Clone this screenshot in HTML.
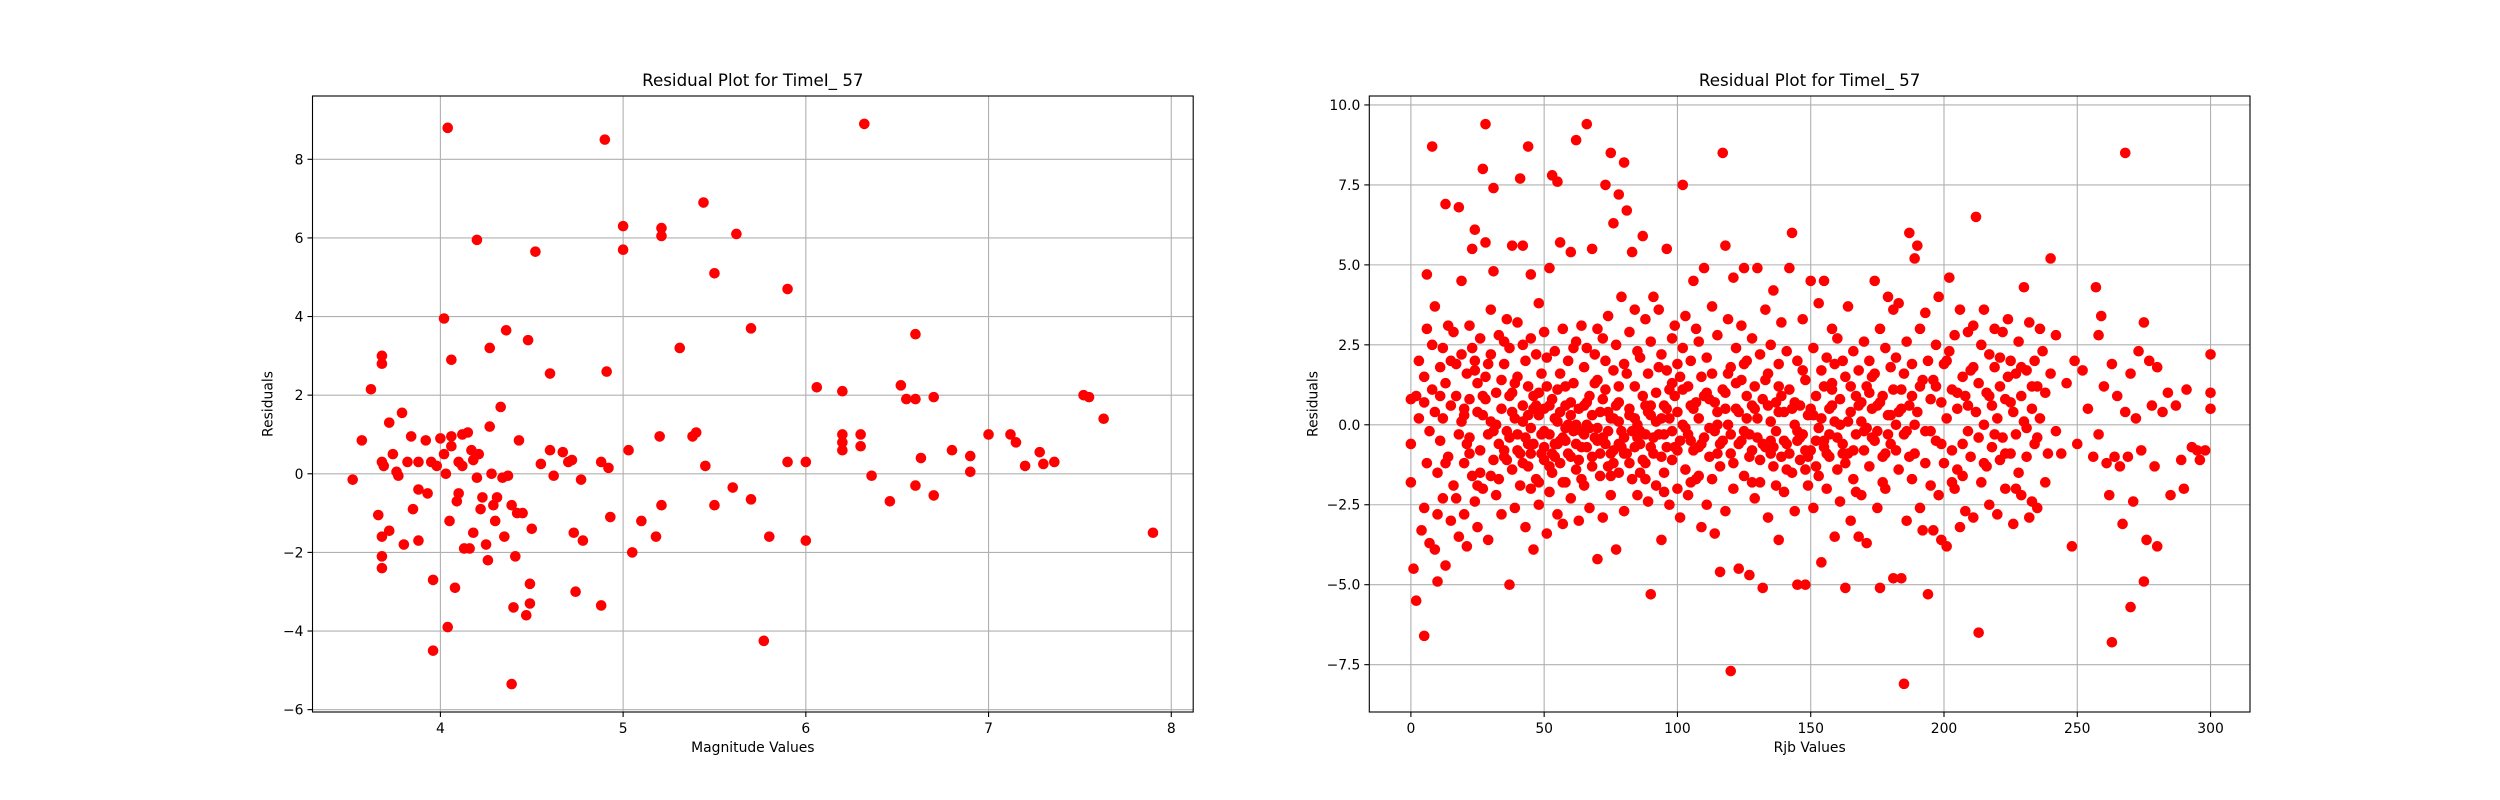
<!DOCTYPE html>
<html><head><meta charset="utf-8"><style>
html,body{margin:0;padding:0;background:#fff;}
svg{display:block;font-family:"DejaVu Sans","Liberation Sans",sans-serif;}
</style></head><body>
<svg id="fig" width="2500" height="800" viewBox="0 0 2500 800" xmlns="http://www.w3.org/2000/svg"></svg>
<script>
// Left chart data: magnitude vs residual
const magX = [3.52,3.57,3.62,3.68,3.68,3.66,3.68,3.69,3.68,3.68,3.68,3.72,3.72,3.74,3.76,3.77,3.79,3.8,3.82,3.84,3.85,3.88,3.88,3.88,3.92,3.93,3.95,3.96,3.96,3.98,4.0,4.02,4.02,4.03,4.04,4.04,4.05,4.06,4.06,4.06,4.08,4.09,4.1,4.1,4.12,4.12,4.13,4.15,4.16,4.17,4.18,4.18,4.2,4.2,4.21,4.22,4.23,4.25,4.26,4.27,4.27,4.28,4.29,4.3,4.31,4.33,4.34,4.35,4.36,4.37,4.39,4.39,4.4,4.41,4.42,4.43,4.45,4.47,4.48,4.49,4.49,4.5,4.52,4.55,4.6,4.6,4.62,4.67,4.7,4.72,4.73,4.74,4.77,4.78,4.88,4.88,4.9,4.91,4.92,4.93,5.0,5.0,5.03,5.05,5.1,5.18,5.2,5.21,5.21,5.21,5.31,5.38,5.4,5.44,5.45,5.5,5.5,5.6,5.62,5.7,5.7,5.77,5.8,5.9,5.9,6.0,6.0,6.06,6.2,6.2,6.2,6.2,6.3,6.3,6.32,6.36,6.46,6.52,6.55,6.6,6.6,6.6,6.63,6.7,6.7,6.8,6.9,6.9,7.0,7.12,7.15,7.2,7.28,7.3,7.36,7.52,7.55,7.63,7.9];
const magRes = [-0.15,0.85,2.15,3.0,2.8,-1.05,0.3,0.2,-1.6,-2.1,-2.4,1.3,-1.45,0.5,0.05,-0.05,1.55,-1.8,0.3,0.95,-0.9,0.3,-0.4,-1.7,0.85,-0.5,0.3,-2.7,-4.5,0.2,0.9,0.5,3.95,0.0,8.8,-3.9,-1.2,0.7,2.9,0.95,-2.9,-0.7,0.3,-0.5,1.0,0.2,-1.9,1.05,-1.9,0.6,0.35,-1.5,5.95,-0.1,0.5,-0.9,-0.6,-1.8,-2.2,3.2,1.2,0.0,-0.8,-1.2,-0.6,1.7,-0.1,-1.6,3.65,-0.05,-5.35,-0.8,-3.4,-2.1,-1.0,0.85,-1.0,-3.6,3.4,-2.8,-3.3,-1.4,5.65,0.25,2.55,0.6,-0.05,0.55,0.3,0.35,-1.5,-3.0,-0.15,-1.7,0.3,-3.35,8.5,2.6,0.15,-1.1,6.3,5.7,0.6,-2.0,-1.2,-1.6,0.95,6.25,6.05,-0.8,3.2,0.95,1.05,6.9,0.2,5.1,-0.8,-0.35,6.1,3.7,-0.65,-4.25,-1.6,4.7,0.3,0.3,-1.7,2.2,2.1,1.0,0.8,0.6,1.0,0.7,8.9,-0.05,-0.7,2.25,1.9,3.55,1.9,-0.3,0.4,1.95,-0.55,0.6,0.45,0.05,1.0,1.0,0.8,0.2,0.55,0.25,0.3,2.0,1.95,1.4,-1.5];
const magXTicks = [4,5,6,7,8];
const magYTicks = [-6,-4,-2,0,2,4,6,8];
const magYTickLabels = ["−6","−4","−2","0","2","4","6","8"];

// Right chart data: Rjb vs residual, as [x, y] pairs
const rjbPoints = [
[0,0.8],[0,-1.8],[0,-0.6],[1,-4.5],[2,-5.5],[2,0.9],[3,2.0],[3,0.2],[4,-3.3],[5,-6.6],[5,-2.6],[5,0.7],[5,1.5],[6,3.0],[6,4.7],[6,-1.2],[7,-0.2],[7,-3.7],[8,1.1],[8,8.7],[8,2.5],[9,-3.9],[9,0.4],[9,3.7],[10,-1.5],[10,-2.8],[10,-4.9],[11,1.8],[11,-0.5],[12,2.4],[12,0.2],[12,-2.3],[13,6.9],[13,1.3],[13,-4.4],[14,-1.0],[14,3.1],[15,0.6],[15,-3.0],[16,2.9],[16,-1.9],[17,0.9],[17,1.9],[18,6.8],[18,-3.5],[18,-0.3],[19,4.5],[19,2.2],[20,-1.2],[20,-2.8],[20,0.3],[21,1.6],[21,-3.8],[22,3.1],[22,0.8],[22,-0.9],[23,5.5],[23,-1.6],[24,2.0],[24,6.1],[24,-2.4],[25,0.4],[25,1.3],[25,-3.2],[26,-0.8],[26,2.7],[27,8.0],[27,0.9],[27,-2.0],[28,9.4],[28,5.7],[28,1.5],[29,-0.3],[29,-3.6],[30,2.2],[30,3.6],[30,0.1],[31,7.4],[31,-1.1],[31,4.8],[32,1.0],[32,-2.2],[33,2.8],[33,-0.6],[34,0.5],[34,-2.8],[35,1.9],[35,-1.0],[36,3.3],[36,-0.2],[37,-5.0],[37,0.9],[37,2.4],[38,5.6],[38,-1.4],[39,0.2],[39,-2.6],[40,1.5],[40,3.2],[40,-0.8],[41,7.7],[41,-1.9],[42,0.6],[42,5.6],[42,2.5],[43,-0.4],[43,-3.2],[44,1.2],[44,8.7],[44,-1.3],[45,2.7],[45,-0.1],[45,4.7],[46,-3.9],[46,0.9],[47,-1.7],[47,2.2],[48,0.3],[48,-2.5],[48,3.8],[49,1.6],[49,-0.9],[50,-1.1],[50,2.9],[50,0.5],[51,-3.4],[51,1.2],[52,-0.3],[52,4.9],[52,-2.1],[53,7.8],[53,0.8],[53,-1.5],[54,2.3],[54,-0.6],[55,7.6],[55,-2.8],[55,0.1],[56,1.6],[56,5.7],[56,-1.2],[57,-0.4],[57,3.0],[57,-3.1],[58,0.6],[58,-1.8],[59,2.0],[59,-0.9],[60,5.4],[60,0.3],[60,-2.3],[61,1.3],[61,-0.2],[62,8.9],[62,-1.4],[62,2.6],[63,0.5],[63,-3.0],[64,3.1],[64,-0.7],[65,1.8],[65,-1.9],[66,9.4],[66,0.0],[66,2.4],[67,-2.6],[67,0.9],[68,5.5],[68,-1.0],[69,2.2],[69,-0.4],[70,-4.2],[70,1.4],[70,3.0],[71,-1.6],[71,0.4],[72,2.7],[72,-2.9],[73,7.5],[73,-0.6],[73,1.1],[74,3.4],[74,-1.3],[75,8.5],[75,0.2],[75,-2.2],[76,6.3],[76,1.7],[76,-0.8],[77,-3.9],[77,2.5],[78,7.2],[78,0.7],[78,-1.5],[79,4.0],[79,-0.2],[80,8.2],[80,1.9],[80,-2.7],[81,6.7],[81,-0.9],[82,2.9],[82,0.5],[83,5.4],[83,-1.7],[84,1.2],[84,3.6],[85,-2.2],[85,0.0],[86,2.1],[86,-0.6],[87,5.9],[87,0.9],[88,-1.2],[88,3.3],[89,1.6],[89,-2.4],[90,-5.3],[90,0.3],[90,2.6],[91,4.0],[91,-0.9],[92,1.0],[92,-1.9],[93,3.6],[93,-0.3],[94,2.2],[94,-3.6],[95,0.6],[95,-1.5],[96,5.5],[96,1.7],[96,-0.7],[97,-2.5],[97,0.2],[98,2.7],[98,-1.1],[99,0.9],[99,3.1],[100,-2.0],[100,0.4],[100,1.9],[101,-0.5],[101,-2.9],[102,7.5],[102,2.4],[102,0.0],[103,-1.4],[103,3.4],[104,1.2],[104,-2.2],[105,0.6],[105,2.0],[106,-0.8],[106,4.5],[107,3.0],[107,-1.7],[108,0.2],[108,2.6],[109,-3.2],[109,1.5],[110,4.9],[110,-0.4],[111,2.1],[111,-2.5],[112,0.8],[112,-1.0],[113,3.7],[113,1.6],[114,-0.2],[114,-3.4],[115,2.8],[115,0.4],[116,-4.6],[116,-1.3],[117,8.5],[117,1.1],[118,5.6],[118,-2.7],[119,0.0],[119,3.3],[120,-7.7],[120,-0.9],[120,1.8],[121,4.6],[121,-2.0],[122,0.5],[122,2.4],[123,-0.6],[123,-4.5],[124,1.4],[124,3.1],[125,-1.6],[125,4.9],[126,0.2],[126,2.0],[127,-4.7],[127,-1.0],[128,2.7],[128,0.6],[129,-2.3],[129,1.2],[130,4.9],[130,-0.4],[131,2.2],[131,-1.8],[132,-5.1],[132,0.8],[133,3.6],[133,-0.7],[134,1.6],[134,-2.9],[135,0.1],[135,2.5],[136,-1.3],[136,4.2],[137,0.7],[137,-0.2],[138,1.9],[138,-3.6],[139,-1.0],[139,3.2],[140,0.4],[140,-2.1],[141,2.3],[141,-0.6],[142,4.9],[142,1.1],[143,-1.5],[143,6.0],[144,0.0],[144,-2.7],[145,-5.0],[145,2.0],[146,0.6],[146,-1.1],[147,3.3],[147,-0.3],[148,-5.0],[148,1.4],[149,-1.9],[149,0.3],[150,4.5],[150,-0.8],[151,2.4],[151,-2.6],[152,0.9],[152,-1.3],[153,3.8],[153,-0.1],[154,1.7],[154,-4.3],[155,-0.5],[155,4.5],[156,2.1],[156,-2.0],[157,0.5],[157,-1.0],[158,1.3],[158,3.0],[159,-3.5],[159,0.1],[160,2.7],[160,-1.4],[161,0.8],[161,-2.4],[162,2.0],[162,-0.6],[163,1.5],[163,-5.1],[164,-0.9],[164,3.7],[165,0.4],[165,-3.0],[166,2.3],[166,-1.7],[167,0.9],[167,-0.3],[168,1.7],[168,-3.5],[169,-2.2],[169,0.1],[170,2.6],[170,-0.8],[171,1.2],[171,-3.7],[172,-1.3],[172,2.0],[173,0.5],[173,-0.4],[174,4.5],[174,1.6],[175,-2.6],[175,-0.2],[176,-5.1],[176,3.0],[177,0.9],[177,-1.0],[178,2.4],[178,-2.0],[179,4.0],[179,0.3],[180,1.8],[180,-0.6],[181,3.6],[181,-4.8],[182,0.0],[182,2.1],[183,-1.4],[183,3.8],[184,1.1],[184,-4.8],[185,-8.1],[185,-0.3],[186,2.6],[186,-3.0],[187,6.0],[187,0.6],[188,-1.7],[188,1.9],[189,5.2],[189,-0.9],[190,5.6],[190,0.4],[191,3.0],[191,-2.6],[192,1.4],[192,-3.3],[193,-0.2],[193,3.5],[194,-5.3],[194,2.0],[195,0.8],[195,-1.9],[196,-3.3],[196,1.4],[197,2.5],[197,-0.5],[198,4.0],[198,-2.2],[199,0.7],[199,-3.6],[200,1.9],[200,-1.2],[201,-3.8],[201,0.2],[202,2.3],[202,4.6],[203,-0.8],[203,1.1],[204,-2.0],[204,2.8],[205,0.5],[205,-1.4],[206,3.6],[206,-3.2],[207,1.5],[207,-0.6],[208,0.9],[208,-2.7],[209,2.9],[209,-0.2],[210,1.7],[210,-1.0],[211,-2.9],[211,3.1],[212,6.5],[212,0.4],[213,-6.5],[213,1.3],[214,-1.8],[214,2.5],[215,0.0],[215,3.6],[216,-1.3],[216,1.0],[217,2.2],[217,-2.5],[218,0.6],[218,-0.7],[219,1.8],[219,3.0],[220,-2.8],[220,0.2],[221,1.2],[221,-1.1],[222,2.9],[222,-0.4],[223,0.8],[223,-2.0],[224,3.3],[224,1.5],[225,-0.9],[225,2.0],[226,0.4],[226,-3.1],[227,1.6],[227,-0.3],[228,2.6],[228,-1.5],[229,0.9],[229,-2.2],[230,4.3],[230,0.1],[231,1.7],[231,-1.0],[232,3.2],[232,-2.9],[233,0.5],[233,-2.4],[234,2.0],[234,-0.6],[235,1.2],[235,-2.6],[236,3.0],[236,0.2],[238,1.0],[238,-1.8],[240,5.2],[240,1.6],[242,-0.2],[242,2.8],[244,-0.9],[246,1.3],[248,-3.8],[249,2.0],[250,-0.6],[252,1.7],[254,0.5],[256,-1.0],[257,4.3],[258,2.8],[258,-0.3],[259,3.4],[260,1.2],[261,-1.2],[262,-2.2],[263,-6.8],[263,1.9],[264,-1.0],[265,0.9],[266,-1.3],[267,-3.1],[268,8.5],[268,0.4],[269,-1.0],[270,-5.7],[270,1.6],[271,-2.4],[272,0.2],[273,2.3],[274,-0.8],[275,-4.9],[275,3.2],[276,-3.6],[277,2.0],[278,0.6],[279,-1.3],[280,-3.8],[280,1.8],[282,0.4],[284,1.0],[285,-2.2],[287,0.6],[289,-1.1],[290,-2.0],[291,1.1],[293,-0.7],[295,-0.8],[296,-1.1],[298,-0.8],[300,2.2],[300,1.0],[300,0.5],
[20,0.5],[22,-0.4],[24,1.7],[26,-1.5],[28,0.8],[30,-1.6],[32,0.0],[34,1.4],[36,-1.1],[38,0.4],[40,-0.3],[42,-1.2],[44,0.3],[46,-0.6],[48,1.0],[50,-0.2],[52,0.6],[54,-1.0],[56,0.4],[58,-0.5],[60,-1.0],[62,0.0],[64,-1.7],[66,-0.7],[68,0.3],[70,-0.5],[72,0.8],[74,-0.2],[76,-1.2],[78,0.1],[80,-0.4],[82,-1.2],[84,0.2],[86,-1.5],[88,0.6],[90,-0.7],[92,0.1],[94,-1.0],[96,0.5],[98,-0.2],[100,-0.8],[102,1.1],[104,-0.3],[106,0.5],[108,-0.7],[110,0.9],[112,-0.1],[114,0.7],[116,-0.6],[118,0.5],[120,-0.3],[122,1.3],[124,-0.5],[126,0.9],[128,-0.8],[130,0.2],[132,-0.6],[134,0.6],[136,-0.7],[138,0.4],[140,-0.5],[142,-0.9],[144,0.7],[146,-0.4],[148,-0.8],[150,0.5],[152,-0.5],[154,0.2],[156,-0.9],[158,0.6],[160,-0.4],[162,-0.9],[164,0.1],[166,-0.8],[168,0.6],[170,-0.2],[172,1.0],[174,-0.5],[176,0.7],[178,-0.9],[180,0.3],[182,-0.8],[184,0.5],[186,-0.2],[188,0.9],
[35,-0.8],[45,-0.9],[55,-0.6],[65,-0.3],[75,-0.9],[85,-0.4],[95,-0.3],[105,-0.5],[115,-0.9],[125,-0.2],[135,-0.9],[145,-0.5],[155,-0.7],[38,1.0],[48,-1.8],[58,1.2],[68,-1.3],[78,1.2],[88,-1.7],[98,1.3],[108,-1.6],[118,1.0],[128,-1.8],[138,1.2],[148,-1.4],[158,1.1],
[11,0.9],[13,-1.2],[15,2.0],[17,-2.3],[19,0.1],[21,-0.6],[23,2.4],[25,-1.9],[27,0.3],[29,1.9],[31,-0.2],[33,-1.7],[35,2.6],[37,-0.4],[39,1.3],[41,-0.9],[43,2.0],[45,-2.0],[47,0.6],[49,-0.3],[51,2.1],[53,-0.9],[55,1.1],[57,-1.8],[59,0.0],[61,2.4],[63,-1.1],[65,0.6],[67,-0.1],[69,1.3],[71,-0.9],[73,2.0],[75,-1.6],[77,0.6],[79,-0.7],[81,1.6],[83,-0.2],[85,2.3],[87,-1.1],[89,0.4],[91,-0.4],[93,1.8],[95,-2.1],[97,1.1],[99,-0.7],[101,1.5],[103,-0.1],[105,-1.8],[107,0.7],[109,-0.6],[111,1.0],[113,-1.7],[115,0.0],[117,-0.5],[119,1.6],[121,-1.2],[123,0.4],[125,1.9],[127,-0.3],[129,0.5],[131,-1.1],[133,1.4],[135,-0.5],[137,-1.9],[139,0.9],[141,-1.4],[143,0.5],[145,-0.2],[147,1.7],[149,-1.0],[151,0.3],[153,-1.6],[155,1.2],[157,-0.3],[159,1.9],[161,0.0],[163,-1.2],[165,1.2],[167,-2.1],[169,0.7],[171,-0.1],[173,1.5],[175,0.6],[177,-1.8],[179,-0.3],[181,1.1],[183,0.4],[185,1.6],[187,-1.0],[189,0.0],[191,1.2],[193,-1.2],[195,-0.2],[197,1.2],[199,-0.6],[201,2.0],[203,-1.8],[205,1.0],[207,-1.6],[209,0.6],[211,1.8],[213,-0.4],[215,-1.2],[217,0.9],[219,-0.3],[221,2.1],[223,-0.9],[225,0.7],[227,-2.0],[229,1.8],[231,-0.1],[233,1.2],[235,-0.4],[237,2.3],[239,-0.9],
[42,0.1],[46,0.5],[50,-0.7],[54,0.2],[58,-0.1],[62,-0.6],[66,0.7],[70,-0.1],[74,0.4],[78,-0.6],[82,0.3],[86,-0.2],[90,0.6],[94,0.2],[44,-0.6],[52,-1.3],[56,-0.5],[60,0.7],[64,-0.2],[72,-0.4],[76,0.2],[80,-0.9],[84,-0.7],[88,-0.3]
];
const rjbX = rjbPoints.map(p => p[0]);
const rjbRes = rjbPoints.map(p => p[1]);
const rjbXTicks = [0,50,100,150,200,250,300];
const rjbYTicks = [-7.5,-5,-2.5,0,2.5,5,7.5,10];
const rjbYTickLabels = ["−7.5","−5.0","−2.5","0.0","2.5","5.0","7.5","10.0"];

const NS = "http://www.w3.org/2000/svg";
const svg = document.getElementById('fig');
function mk(tag, attrs, parent) {
  const e = document.createElementNS(NS, tag);
  for (const k in attrs) e.setAttribute(k, attrs[k]);
  (parent || svg).appendChild(e);
  return e;
}

function drawPanel(cfg) {
  const g = mk('g', {});
  
  
  const L = cfg.left, T = 96, W = 880.7, H = 616;
  const sx = v => L + (v - cfg.xmin) / (cfg.xmax - cfg.xmin) * W;
  const sy = v => T + H - (v - cfg.ymin) / (cfg.ymax - cfg.ymin) * H;
  cfg.xTicks.forEach((t, i) => {
    const x = sx(t);
    const gl = mk('line', {x1:x, x2:x, y1:T, y2:T+H, stroke:'#b0b0b0', 'stroke-width':1.1}, g);
    
    
    const tk = mk('line', {x1:x, x2:x, y1:T+H, y2:T+H+5, stroke:'#000', 'stroke-width':1.1}, g);
    
    
    const tl = mk('text', {x:x, y:T+H+21, 'font-size':13.9, 'text-anchor':'middle', fill:'#000'}, g);
    tl.textContent = String(t);
    
    
  });
  cfg.yTicks.forEach((t, i) => {
    const y = sy(t);
    const gl = mk('line', {x1:L, x2:L+W, y1:y, y2:y, stroke:'#b0b0b0', 'stroke-width':1.1}, g);
    
    
    const tk = mk('line', {x1:L-5, x2:L, y1:y, y2:y, stroke:'#000', 'stroke-width':1.1}, g);
    
    
    const tl = mk('text', {x:L-9, y:y+5, 'font-size':13.9, 'text-anchor':'end', fill:'#000'}, g);
    tl.textContent = cfg.yLabels[i];
    
    
  });
  cfg.xs.forEach((v, i) => {
    const c = mk('circle', {cx:sx(v), cy:sy(cfg.ys[i]), r:5.3, fill:'#ff0000'}, g);
    
    
  });
  const fr = mk('rect', {x:L, y:T, width:W, height:H, fill:'none', stroke:'#000', 'stroke-width':1.1}, g);
  
  
  const ti = mk('text', {x:L+W/2, y:T-10, 'font-size':16.7, 'text-anchor':'middle', fill:'#000'}, g);
  ti.textContent = 'Residual Plot for TimeI_ 57';
  
  
  const xl = mk('text', {x:L+W/2, y:T+H+40, 'font-size':13.9, 'text-anchor':'middle', fill:'#000'}, g);
  xl.textContent = cfg.xLabel;
  
  
  const yx = L - cfg.yLabelOff, yy = T + H/2;
  const yl = mk('text', {x:yx, y:yy, 'font-size':13.9, 'text-anchor':'middle', fill:'#000', transform:'rotate(-90 '+yx+' '+yy+')'}, g);
  yl.textContent = 'Residuals';
  
  
}

drawPanel({name:'magnitude-residual-chart', left:312.5, xmin:3.30, xmax:8.12, ymin:-6.06, ymax:9.61,
  xTicks:magXTicks, yTicks:magYTicks, yLabels:magYTickLabels, xs:magX, ys:magRes, xLabel:'Magnitude Values', yLabelOff:40});
drawPanel({name:'rjb-residual-chart', left:1369.3, xmin:-15.6, xmax:314.8, ymin:-8.98, ymax:10.28,
  xTicks:rjbXTicks, yTicks:rjbYTicks, yLabels:rjbYTickLabels, xs:rjbX, ys:rjbRes, xLabel:'Rjb Values', yLabelOff:52});
</script>
</body></html>
